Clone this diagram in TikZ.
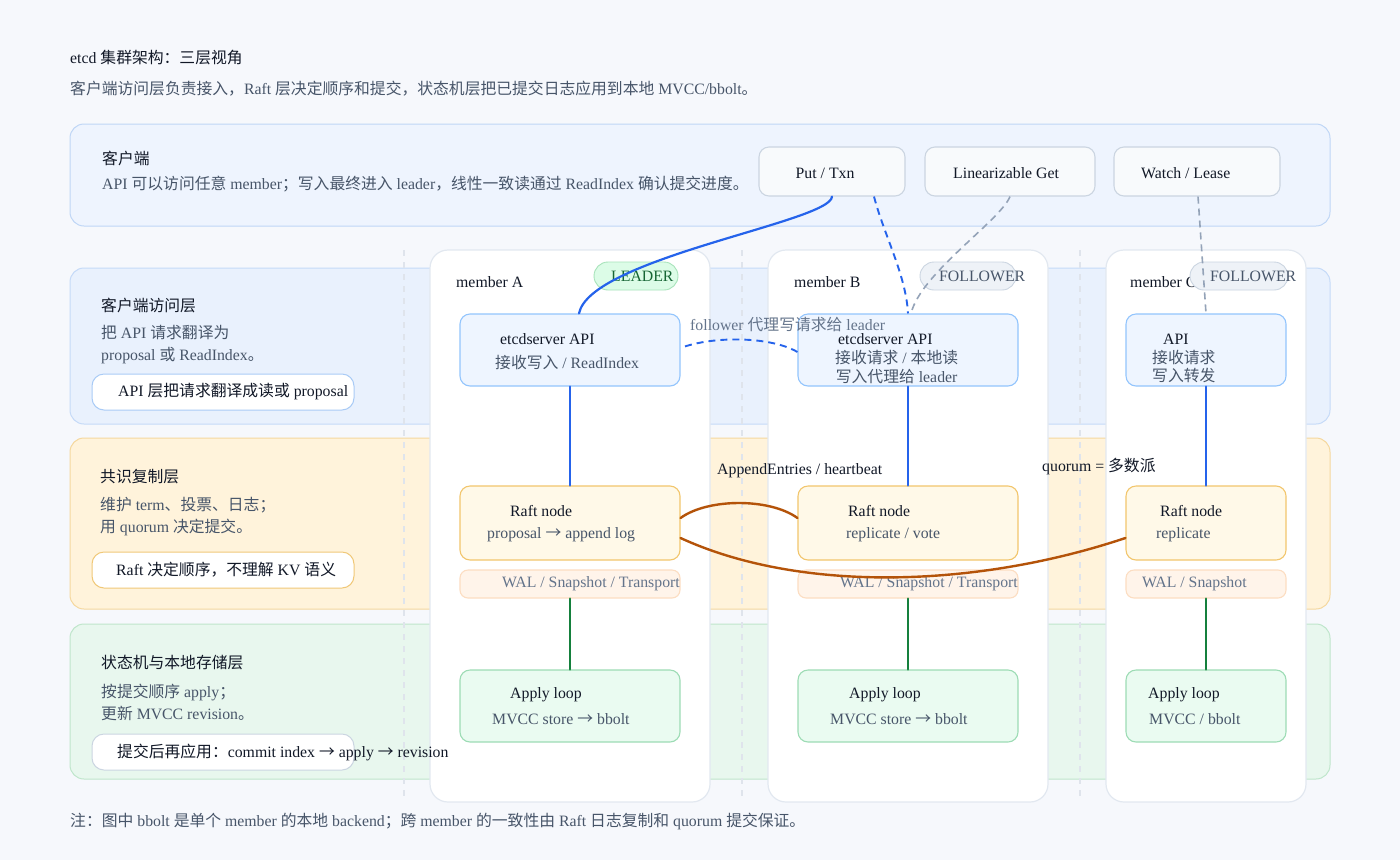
\documentclass[tikz,border=0pt]{standalone}
\usepackage{fontspec}
\setmainfont{Liberation Serif}
\newfontfamily\cjkfont{Noto Sans CJK SC}
% switch to the CJK face for every run of Chinese characters
\XeTeXinterchartokenstate=1
\newXeTeXintercharclass\cjkclass
\newcount\cjkcode
\newcommand\cjkrange[2]{%
  \cjkcode=#1\relax
  \loop
    \XeTeXcharclass\cjkcode=\cjkclass
  \ifnum\cjkcode<#2\relax
    \advance\cjkcode by 1\relax
  \repeat}
\cjkrange{"2192}{"2192}
\cjkrange{"3000}{"303F}
\cjkrange{"4E00}{"9FFF}
\cjkrange{"FF00}{"FFEF}
\XeTeXinterchartoks 0 \cjkclass = {\begingroup\cjkfont}
\XeTeXinterchartoks 4095 \cjkclass = {\begingroup\cjkfont}
\XeTeXinterchartoks \cjkclass 0 = {\endgroup}
\XeTeXinterchartoks \cjkclass 4095 = {\endgroup}

\begin{document}
\begin{tikzpicture}[x=1pt,y=-1pt,
  txt/.style={font=\fontsize{15.8}{19}\selectfont,inner sep=0pt,anchor=west,text=ink},
  dim/.style={txt,text=slate},
  faint/.style={txt,text=mute},
  band/.style={rounded corners=14pt,line width=1pt,minimum width=1260pt,inner sep=0pt},
  card/.style={rounded corners=18pt,fill=white,draw=cardline,line width=1.2pt,minimum height=552pt,inner sep=0pt},
  box/.style={rounded corners=10pt,line width=1.1pt,inner sep=0pt},
  chip/.style={rounded corners=12pt,fill=white,line width=1pt,minimum width=262pt,minimum height=36pt,inner sep=0pt},
  badge/.style={rounded corners=14pt,line width=.9pt,minimum height=28pt,inner sep=0pt},
  opbox/.style={box,fill=opfill,draw=opline,minimum height=49pt},
  divider/.style={draw=sepline,line width=1.2pt,dash pattern=on 6pt off 6pt},
  wire/.style={line width=2.2pt,line cap=round},
  dashwire/.style={line width=1.9pt,dash pattern=on 7pt off 5pt}]
\definecolor{pagebg}{HTML}{F6F8FC}
\definecolor{ink}{HTML}{111827}
\definecolor{slate}{HTML}{475569}
\definecolor{mute}{HTML}{64748B}
\definecolor{clientfill}{HTML}{EEF4FE}
\definecolor{clientline}{HTML}{BFD6F6}
\definecolor{accfill}{HTML}{E9F1FD}
\definecolor{accline}{HTML}{C5DAF8}
\definecolor{conffill}{HTML}{FFF3DB}
\definecolor{confline}{HTML}{F5D89E}
\definecolor{stfill}{HTML}{E8F7EE}
\definecolor{stline}{HTML}{BFE6CB}
\definecolor{cardline}{HTML}{E2E8F0}
\definecolor{apifill}{HTML}{EEF5FF}
\definecolor{apiline}{HTML}{93C5FD}
\definecolor{raftfill}{HTML}{FFF9E8}
\definecolor{raftline}{HTML}{F2C66D}
\definecolor{walfill}{HTML}{FFF4EA}
\definecolor{walline}{HTML}{FCDDC2}
\definecolor{applyfill}{HTML}{EAFBF1}
\definecolor{applyline}{HTML}{9DDCB5}
\definecolor{opfill}{HTML}{F8FAFC}
\definecolor{opline}{HTML}{CBD5E1}
\definecolor{linkblue}{HTML}{2563EB}
\definecolor{linkgreen}{HTML}{15803D}
\definecolor{linkbrown}{HTML}{B45309}
\definecolor{linkgrey}{HTML}{94A3B8}
\definecolor{leadfill}{HTML}{DCFCE7}
\definecolor{leadline}{HTML}{A7E3BA}
\definecolor{leadtext}{HTML}{166534}
\definecolor{follfill}{HTML}{EEF2F7}
\definecolor{sepline}{HTML}{DFE4EC}
\definecolor{acchip}{HTML}{A9CBF6}
\definecolor{confchip}{HTML}{F0C878}
\fill[pagebg] (0,0) rectangle (1400,860);
% heading
\node[txt] (title) at (70,58) {etcd 集群架构：三层视角};
\node[dim] (subtitle) at (70,89) {客户端访问层负责接入，Raft 层决定顺序和提交，状态机层把已提交日志应用到本地 MVCC/bbolt。};
% client panel
\node[band,fill=clientfill,draw=clientline,minimum height=102pt] (clientband) at (700,175) {};
\node[txt] (clienthead) at (102,158) {客户端};
\node[dim] (clientdesc) at (102,184) {API 可以访问任意 member；写入最终进入 leader，线性一致读通过 ReadIndex 确认提交进度。};
\node[opbox,minimum width=146pt] (putop) at (832,171.5) {};
\node[opbox,minimum width=170pt] (linop) at (1010,171.5) {};
\node[opbox,minimum width=166pt] (watchop) at (1197,171.5) {};
\node[txt] (putt) at (795.5,173) {Put / Txn};
\node[txt] (lint) at (953,173) {Linearizable Get};
\node[txt] (watcht) at (1141,173) {Watch / Lease};
% layer bands
\node[band,fill=accfill,draw=accline,minimum height=156pt] (accband) at (700,346) {};
\node[band,fill=conffill,draw=confline,minimum height=171pt] (confband) at (700,523.5) {};
\node[band,fill=stfill,draw=stline,minimum height=155pt] (stband) at (700,701.5) {};
\node[txt] (acchead) at (101,305) {客户端访问层};
\node[dim,align=left,font=\fontsize{15.8}{22.5}\selectfont] (accdesc) at (101,344.5) {把 API 请求翻译为\\proposal 或 ReadIndex。};
\node[txt] (confhead) at (100,477) {共识复制层};
\node[dim,align=left,font=\fontsize{15.8}{22}\selectfont] (confdesc) at (100,517) {维护 term、投票、日志；\\用 quorum 决定提交。};
\node[txt] (sthead) at (101,663) {状态机与本地存储层};
\node[dim,align=left,font=\fontsize{15.8}{22}\selectfont] (stdesc) at (101,702) {按提交顺序 apply；\\更新 MVCC revision。};
\draw[divider] (404,250) -- (404,800);
\draw[divider] (742,250) -- (742,800);
\draw[divider] (1080,250) -- (1080,800);
% members
\node[card,minimum width=280pt] (cardA) at (570,526) {};
\node[card,minimum width=280pt] (cardB) at (908,526) {};
\node[card,minimum width=200pt] (cardC) at (1206,526) {};
\node[txt] (memA) at (456,282) {member A};
\node[txt] (memB) at (794,282) {member B};
\node[txt] (memC) at (1130,282) {member C};
\node[badge,fill=leadfill,draw=leadline,minimum width=84pt] (badgeA) at (636,276) {};
\node[badge,fill=follfill,draw=opline,minimum width=96pt] (badgeB) at (968,276) {};
\node[badge,fill=follfill,draw=opline,minimum width=98pt] (badgeC) at (1239,276) {};
\node[txt,text=leadtext] (badgeAt) at (611,276) {LEADER};
\node[dim] (badgeBt) at (939,276) {FOLLOWER};
\node[dim] (badgeCt) at (1210,276) {FOLLOWER};
% api row
\node[box,fill=apifill,draw=apiline,minimum width=220pt,minimum height=72pt] (apiA) at (570,350) {};
\node[box,fill=apifill,draw=apiline,minimum width=220pt,minimum height=72pt] (apiB) at (908,350) {};
\node[box,fill=apifill,draw=apiline,minimum width=160pt,minimum height=72pt] (apiC) at (1206,350) {};
\node[txt] (apiAt) at (500,339) {etcdserver API};
\node[dim] (apiAs) at (495,363) {接收写入 / ReadIndex};
\node[txt] (apiBt) at (838,339) {etcdserver API};
\node[dim,align=center,font=\fontsize{15.8}{18.5}\selectfont] (apiBs) at (835,367) {接收请求 / 本地读\\写入代理给 leader};
\node[txt] (apiCt) at (1163,339) {API};
\node[dim,align=left,font=\fontsize{15.8}{18.5}\selectfont] (apiCs) at (1152,366.5) {接收请求\\写入转发};
% raft row
\node[box,fill=raftfill,draw=raftline,minimum width=220pt,minimum height=74pt] (raftA) at (570,523) {};
\node[box,fill=raftfill,draw=raftline,minimum width=220pt,minimum height=74pt] (raftB) at (908,523) {};
\node[box,fill=raftfill,draw=raftline,minimum width=160pt,minimum height=74pt] (raftC) at (1206,523) {};
\node[txt] (raftAt) at (510,511) {Raft node};
\node[dim] (raftAs) at (487,535) {proposal → append log};
\node[txt] (raftBt) at (848,511) {Raft node};
\node[dim] (raftBs) at (846,535) {replicate / vote};
\node[txt] (raftCt) at (1160,511) {Raft node};
\node[dim] (raftCs) at (1156,535) {replicate};
\node[box,rounded corners=8pt,fill=walfill,draw=walline,minimum width=220pt,minimum height=28pt] (walA) at (570,584) {};
\node[box,rounded corners=8pt,fill=walfill,draw=walline,minimum width=220pt,minimum height=28pt] (walB) at (908,584) {};
\node[box,rounded corners=8pt,fill=walfill,draw=walline,minimum width=160pt,minimum height=28pt] (walC) at (1206,584) {};
\node[faint] (walAt) at (502,584) {WAL / Snapshot / Transport};
\node[faint] (walBt) at (840,584) {WAL / Snapshot / Transport};
\node[faint] (walCt) at (1142,584) {WAL / Snapshot};
% apply row
\node[box,fill=applyfill,draw=applyline,minimum width=220pt,minimum height=72pt] (applyA) at (570,706) {};
\node[box,fill=applyfill,draw=applyline,minimum width=220pt,minimum height=72pt] (applyB) at (908,706) {};
\node[box,fill=applyfill,draw=applyline,minimum width=160pt,minimum height=72pt] (applyC) at (1206,706) {};
\node[txt] (applyAt) at (510,695) {Apply loop};
\node[dim] (applyAs) at (492,719) {MVCC store → bbolt};
\node[txt] (applyBt) at (849,695) {Apply loop};
\node[dim] (applyBs) at (830,719) {MVCC store → bbolt};
\node[txt] (applyCt) at (1148,695) {Apply loop};
\node[dim] (applyCs) at (1149,719) {MVCC / bbolt};
% links
\draw[wire,draw=linkblue] (apiA.south) -- (raftA.north);
\draw[wire,draw=linkblue] (apiB.south) -- (raftB.north);
\draw[wire,draw=linkblue] (apiC.south) -- (raftC.north);
\draw[wire,draw=linkgreen] (walA.south) -- (applyA.north);
\draw[wire,draw=linkgreen] (walB.south) -- (applyB.north);
\draw[wire,draw=linkgreen] (walC.south) -- (applyC.north);
\draw[wire,draw=linkblue] (putop.south) .. controls (831,222) and (590,258) .. ([xshift=9pt]apiA.north);
\draw[dashwire,draw=linkblue] ([xshift=42pt]putop.south) .. controls (884,235) and (906,275) .. (apiB.north);
\draw[dashwire,draw=linkgrey,line width=1.6pt] (linop.south) .. controls (1000,221) and (921,273) .. ([xshift=3pt]apiB.north);
\draw[dashwire,draw=linkgrey,line width=1.6pt] ([xshift=1pt]watchop.south) -- (apiC.north);
\draw[dashwire,draw=linkblue] ([yshift=-2pt]apiB.west) .. controls (770,336) and (712,336) .. ([yshift=2pt]apiA.east);
\draw[wire,draw=linkbrown,line width=2.4pt] ([yshift=5pt]raftA.east) .. controls (708,498) and (770,498) .. ([yshift=5pt]raftB.west);
\draw[wire,draw=linkbrown,line width=2.4pt] ([yshift=-15pt]raftA.east) .. controls (800,593) and (976,588) .. ([yshift=-15pt]raftC.west);
\node[faint] (proxylbl) at (690,325) {follower 代理写请求给 leader};
\node[txt] (appendlbl) at (717,471) {AppendEntries / heartbeat};
\node[txt] (quorumlbl) at (1042,467) {quorum = 多数派};
% layer notes
\node[chip,draw=acchip] (accchip) at (223,392) {};
\node[txt] (accchipt) at (118,392) {API 层把请求翻译成读或 proposal};
\node[chip,draw=confchip] (confchip) at (223,570) {};
\node[txt] (confchipt) at (116,570) {Raft 决定顺序，不理解 KV 语义};
\node[chip,draw=opline] (stchip) at (223,752) {};
\node[txt] (stchipt) at (117,752) {提交后再应用：commit index → apply → revision};
\node[dim] (footnote) at (70,821) {注：图中 bbolt 是单个 member 的本地 backend；跨 member 的一致性由 Raft 日志复制和 quorum 提交保证。};
\end{tikzpicture}
\end{document}
